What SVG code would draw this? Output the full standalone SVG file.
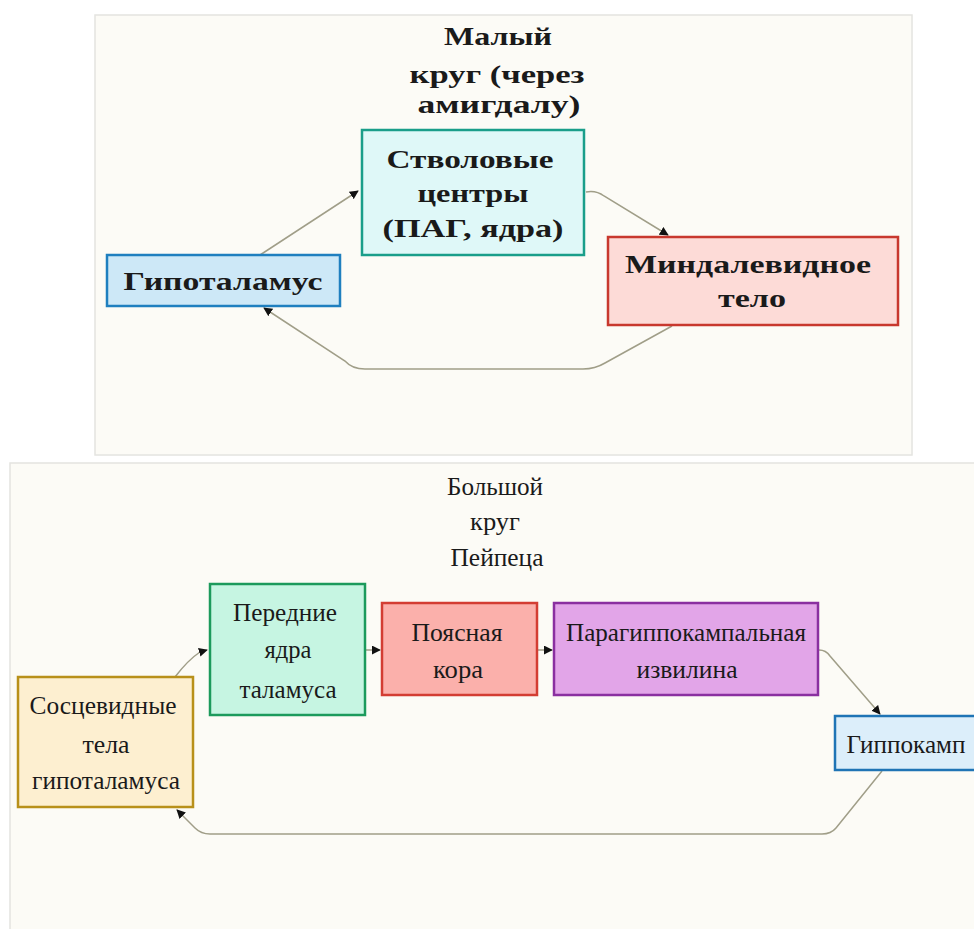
<svg xmlns="http://www.w3.org/2000/svg" width="974" height="929" viewBox="0 0 974 929">
<style>
.panel{fill:#fcfbf6;stroke:#e4e4e0;stroke-width:1.5}
.tb{font-family:"Liberation Serif",serif;font-weight:bold;font-size:25px;fill:#1a1a1a;text-anchor:middle}
.tn{font-family:"Liberation Serif",serif;font-size:25px;fill:#1a1a1a;text-anchor:middle}
.box{stroke-width:2.5}
.edge{fill:none;stroke:#a09e88;stroke-width:1.5}
</style>
<defs>
<marker id="ah" viewBox="0 0 10 10" refX="9" refY="5" markerWidth="9" markerHeight="9" markerUnits="userSpaceOnUse" orient="auto">
<path d="M0,0 L10,5 L0,10 z" fill="#111"/>
</marker>
</defs>
<rect width="974" height="929" fill="#ffffff"/>
<rect class="panel" x="95" y="15" width="817" height="440"/>
<rect class="panel" x="10" y="463" width="970" height="470"/>

<g id="title-small">
<text class="tb" x="498" y="45" textLength="108" lengthAdjust="spacingAndGlyphs">Малый</text>
<text class="tb" x="497" y="83" textLength="175" lengthAdjust="spacingAndGlyphs">круг (через</text>
<text class="tb" x="499" y="113" textLength="163" lengthAdjust="spacingAndGlyphs">амигдалу)</text>
</g>

<g id="title-big">
<text class="tn" x="495" y="495" textLength="96" lengthAdjust="spacingAndGlyphs">Большой</text>
<text class="tn" x="495" y="530" textLength="50" lengthAdjust="spacingAndGlyphs">круг</text>
<text class="tn" x="497" y="566" textLength="93" lengthAdjust="spacingAndGlyphs">Пейпеца</text>
</g>

<g id="edges">
<path class="edge" d="M260,255 L358,191" marker-end="url(#ah)"/>
<path class="edge" d="M586,192 Q596,190 604,196 L668,235" marker-end="url(#ah)"/>
<path class="edge" d="M672,326 L605,363 Q595,369 583,369 L365,369 Q352,369 345,361 L264,308" marker-end="url(#ah)"/>
<path class="edge" d="M175,677 Q188,660 200,652 L207,650" marker-end="url(#ah)"/>
<path class="edge" d="M366,650 L380,650" marker-end="url(#ah)"/>
<path class="edge" d="M538,650 L552,650" marker-end="url(#ah)"/>
<path class="edge" d="M819,650 Q826,650 830,656 L880,714" marker-end="url(#ah)"/>
<path class="edge" d="M882,771 L836,828 Q831,834 822,834 L210,834 Q201,834 195,828 L177,810" marker-end="url(#ah)"/>
</g>

<g id="n-stvol">
<rect class="box" x="362" y="130" width="222" height="125" fill="#dff8f8" stroke="#1a9e8a"/>
<text class="tb" x="470" y="168" textLength="167" lengthAdjust="spacingAndGlyphs">Стволовые</text>
<text class="tb" x="473" y="202" textLength="111" lengthAdjust="spacingAndGlyphs">центры</text>
<text class="tb" x="473" y="237" textLength="181" lengthAdjust="spacingAndGlyphs">(ПАГ, ядра)</text>
</g>

<g id="n-gipot">
<rect class="box" x="107" y="255" width="233" height="51" fill="#cde8f7" stroke="#1f7fbf"/>
<text class="tb" x="223" y="290" textLength="199" lengthAdjust="spacingAndGlyphs">Гипоталамус</text>
</g>

<g id="n-mind">
<rect class="box" x="608" y="237" width="290" height="88" fill="#fddbd7" stroke="#c8382e"/>
<text class="tb" x="748" y="273" textLength="246" lengthAdjust="spacingAndGlyphs">Миндалевидное</text>
<text class="tb" x="752" y="307" textLength="68" lengthAdjust="spacingAndGlyphs">тело</text>
</g>

<g id="n-sosc">
<rect class="box" x="18" y="677" width="175" height="130" fill="#fdefd0" stroke="#b8901a"/>
<text class="tn" x="103" y="714" textLength="147" lengthAdjust="spacingAndGlyphs">Сосцевидные</text>
<text class="tn" x="106" y="753" textLength="47" lengthAdjust="spacingAndGlyphs">тела</text>
<text class="tn" x="106" y="789" textLength="148" lengthAdjust="spacingAndGlyphs">гипоталамуса</text>
</g>

<g id="n-pered">
<rect class="box" x="210" y="584" width="155" height="131" fill="#c6f5e2" stroke="#1c9a5c"/>
<text class="tn" x="285" y="621" textLength="104" lengthAdjust="spacingAndGlyphs">Передние</text>
<text class="tn" x="288" y="658" textLength="47" lengthAdjust="spacingAndGlyphs">ядра</text>
<text class="tn" x="288" y="698" textLength="97" lengthAdjust="spacingAndGlyphs">таламуса</text>
</g>

<g id="n-poyas">
<rect class="box" x="382" y="603" width="155" height="92" fill="#fbb0ab" stroke="#d33d33"/>
<text class="tn" x="457" y="641" textLength="91" lengthAdjust="spacingAndGlyphs">Поясная</text>
<text class="tn" x="458" y="678" textLength="50" lengthAdjust="spacingAndGlyphs">кора</text>
</g>

<g id="n-para">
<rect class="box" x="554" y="603" width="264" height="92" fill="#e2a5e8" stroke="#8a2fa0"/>
<text class="tn" x="686" y="641" textLength="240" lengthAdjust="spacingAndGlyphs">Парагиппокампальная</text>
<text class="tn" x="687" y="678" textLength="101" lengthAdjust="spacingAndGlyphs">извилина</text>
</g>

<g id="n-hipp">
<rect class="box" x="835" y="716" width="145" height="54" fill="#dceefa" stroke="#1f74b5"/>
<text class="tn" x="906" y="753" textLength="119" lengthAdjust="spacingAndGlyphs">Гиппокамп</text>
</g>
</svg>
